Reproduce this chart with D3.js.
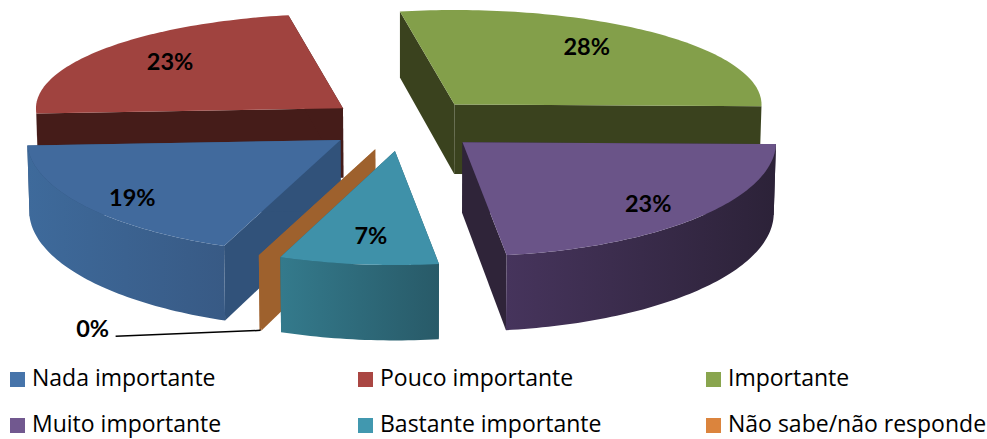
<!DOCTYPE html>
<html><head><meta charset="utf-8">
<style>html,body{margin:0;padding:0;background:#fff}svg{display:block}</style>
<script src="https://cdn.jsdelivr.net/npm/d3@7"></script></head>
<body><svg id="c" width="987" height="439"></svg>
<script>
// data
const categories = ["Nada importante","Pouco importante","Importante","Muito importante","Bastante importante","Não sabe/não responde"];
const values = [18.2,22.9,28.1,22.5,8.2,0.1];
const valueLabels = ["19%","23%","28%","23%","7%","0%"];
// styles
const legendColors = ["#4674aa","#aa4643","#89a54e","#71588f","#4198af","#db843d"];
const topColors = ["#416a9d","#a0433f","#839f4a","#6a5488","#3f91a9","#9e612d"];
const cutColors = ["#31527a","#451c19","#3a421e","#2f2439","#285c6b","#9e612d"];
const wallFrom = ["#3e6a9b","#5a2320","#4a5528","#46345c","#347a8c","#9e612d"];
const wallTo = ["#385a85","#451c19","#3a421e","#2c2238","#285a68","#9e612d"];
const labelFx = [.815,.72,.665,.79,.66,0];
const labelFy = [.88,.79,.80,.81,.75,0];
const paintOrder = [2,1,0,3,5,4];

const svg = d3.select("#c"), defs = svg.append("defs");
const TAU = 2*Math.PI, startDeg = 201.8;
const slices = d3.pie().sort(null).value(d=>d)
  .startAngle(startDeg/360*TAU).endAngle(startDeg/360*TAU+TAU)(values);

const sxFront = d3.scaleLinear().domain([-1,1]).range([-313.5,313.5]);
const sxBack = d3.scaleLinear().domain([-1,1]).range([-307,307]);
const syBack = d3.scaleLinear().domain([0,1]).range([0,-94.5]);
const syFront = d3.scaleLinear().domain([-1,0]).range([114,0]);
const exX = d3.scaleLinear().domain([-1,1]).range([326,482]);
const exY = d3.scaleLinear().domain([-1,1]).range([151.2,98.2]);
const depth = d3.scaleLinear().domain([12,254]).range([66,75]);
const centerX = 404;

const mid = s => (s.startAngle+s.endAngle)/2;
function apex(s){const m=mid(s);return [exX(Math.sin(m)),exY(Math.cos(m))];}
function rim(s,a,f=1,g=1){
  const [ax,ay]=apex(s),c=Math.cos(a),sx=Math.cos(mid(s))>0?sxBack:sxFront;
  return [ax+sx(Math.sin(a))*f, ay+(c>0?syBack(c):syFront(c))*g];
}
function lower(p){return [p[0]+(centerX-p[0])*0.006, p[1]+depth(p[1])];}
const line = d3.line();
function arcPts(s,a0,a1){
  const n=Math.max(2,Math.ceil((a1-a0)/0.02));
  return d3.range(n+1).map(i=>rim(s,a0+(a1-a0)*i/n));
}

paintOrder.forEach(i=>{
  const s=slices[i], A=apex(s), P=arcPts(s,s.startAngle,s.endAngle);
  const g=svg.append("g");
  const E0=P[0],E1=P[P.length-1];
  [E0,E1].forEach(E=>{
    g.append("path").attr("d",line([A,E,lower(E),lower(A)])+"Z").attr("fill",cutColors[i]);
  });
  const front=P.filter((p,k)=>{const a=s.startAngle+(s.endAngle-s.startAngle)*k/(P.length-1);return Math.cos(a)<=0.02;});
  if(front.length>1){
    const xs=d3.extent(front,p=>p[0]);
    const id="w"+i, gr=defs.append("linearGradient").attr("id",id).attr("gradientUnits","userSpaceOnUse")
      .attr("x1",xs[0]).attr("x2",xs[1]).attr("y1",0).attr("y2",0);
    gr.append("stop").attr("offset",0).attr("stop-color",wallFrom[i]);
    gr.append("stop").attr("offset",1).attr("stop-color",wallTo[i]);
    g.append("path").attr("d",line(front.concat(front.map(lower).reverse()))+"Z").attr("fill",`url(#${id})`);
  }
  g.append("path").attr("d",line([A].concat(P))+"Z").attr("fill",topColors[i]);
});

// data labels
const labelFont='"Lato"';
slices.forEach((s,i)=>{
  if(i===5) return;
  const p=rim(s,mid(s),labelFx[i],labelFy[i]);
  svg.append("text").attr("x",p[0]).attr("y",p[1]).attr("dy","0.35em").attr("text-anchor","middle")
    .attr("font-family",labelFont).attr("font-weight",700).attr("font-size",23.5).attr("fill","#000").text(valueLabels[i]);
});
// leader line for the smallest slice
{
  const s=slices[5], b=lower(rim(s,mid(s)));
  svg.append("text").attr("x",b[0]-168).attr("y",b[1]-2).attr("dy","0.35em").attr("text-anchor","middle")
    .attr("font-family",labelFont).attr("font-weight",700).attr("font-size",23.5).attr("fill","#000").text(valueLabels[5]);
  svg.append("line").attr("x1",b[0]-145).attr("y1",b[1]+6).attr("x2",b[0]).attr("y2",b[1])
    .attr("stroke","#000").attr("stroke-width",1.5);
}

// legend
const col = d3.scalePoint().domain([0,1,2]).range([10,706]);
const row = d3.scalePoint().domain([0,1]).range([386,432]);
categories.forEach((c,i)=>{
  const x=col(i%3), y=row(Math.floor(i/3));
  svg.append("rect").attr("x",x).attr("y",y-14).attr("width",15).attr("height",15).attr("fill",legendColors[i]);
  svg.append("text").attr("x",x+22).attr("y",y).attr("font-family",'"Open Sans"').attr("font-size",23).attr("fill","#000").text(c);
});
</script></body></html>
